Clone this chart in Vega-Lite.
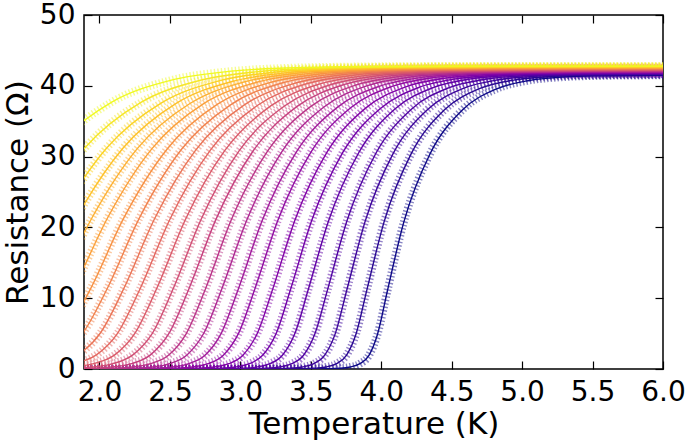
{
"$schema":"https://vega.github.io/schema/vega-lite/v6.json",
"width":579,"height":354,
"autosize":{"type":"none"},
"padding":{"left":84,"top":15,"right":22,"bottom":75},
"datasets":{"d":[
{"c":0,"t":0,"r":0},{"c":0,"t":3.560,"r":0.01},{"c":0,"t":3.708,"r":0.10},{"c":0,"t":3.780,"r":0.28},{"c":0,"t":3.849,"r":0.75},{"c":0,"t":3.914,"r":1.97},{"c":0,"t":3.974,"r":4.95},{"c":0,"t":4.045,"r":11.16},{"c":0,"t":4.16,"r":20.75},{"c":0,"t":4.345,"r":30.34},{"c":0,"t":4.574,"r":36.55},{"c":0,"t":4.814,"r":39.53},{"c":0,"t":5.049,"r":40.75},{"c":0,"t":5.280,"r":41.22},{"c":0,"t":5.508,"r":41.40},{"c":0,"t":5.960,"r":41.49},{"c":0,"t":6.0,"r":41.5},
{"c":1,"t":0,"r":0},{"c":1,"t":3.368,"r":0.01},{"c":1,"t":3.529,"r":0.10},{"c":1,"t":3.6075,"r":0.28},{"c":1,"t":3.683,"r":0.75},{"c":1,"t":3.754,"r":1.97},{"c":1,"t":3.821,"r":4.95},{"c":1,"t":3.898,"r":11.18},{"c":1,"t":4.02,"r":20.78},{"c":1,"t":4.212,"r":30.38},{"c":1,"t":4.449,"r":36.61},{"c":1,"t":4.696,"r":39.59},{"c":1,"t":4.940,"r":40.81},{"c":1,"t":5.178,"r":41.28},{"c":1,"t":5.414,"r":41.46},{"c":1,"t":5.881,"r":41.55},{"c":1,"t":6.0,"r":41.56},
{"c":2,"t":0,"r":0},{"c":2,"t":3.181,"r":0.01},{"c":2,"t":3.355,"r":0.10},{"c":2,"t":3.440,"r":0.28},{"c":2,"t":3.522,"r":0.75},{"c":2,"t":3.599,"r":1.97},{"c":2,"t":3.673,"r":4.96},{"c":2,"t":3.756,"r":11.19},{"c":2,"t":3.885,"r":20.81},{"c":2,"t":4.084,"r":30.42},{"c":2,"t":4.329,"r":36.65},{"c":2,"t":4.584,"r":39.64},{"c":2,"t":4.835,"r":40.86},{"c":2,"t":5.081,"r":41.33},{"c":2,"t":5.324,"r":41.51},{"c":2,"t":5.807,"r":41.60},{"c":2,"t":6.0,"r":41.61},
{"c":3,"t":0,"r":0},{"c":3,"t":2.999,"r":0.01},{"c":3,"t":3.186,"r":0.10},{"c":3,"t":3.2775,"r":0.28},{"c":3,"t":3.366,"r":0.75},{"c":3,"t":3.450,"r":1.98},{"c":3,"t":3.529,"r":4.97},{"c":3,"t":3.619,"r":11.21},{"c":3,"t":3.755,"r":20.84},{"c":3,"t":3.962,"r":30.47},{"c":3,"t":4.214,"r":36.70},{"c":3,"t":4.477,"r":39.70},{"c":3,"t":4.735,"r":40.92},{"c":3,"t":4.989,"r":41.39},{"c":3,"t":5.240,"r":41.57},{"c":3,"t":5.737,"r":41.66},{"c":3,"t":6.0,"r":41.67},
{"c":4,"t":0,"r":0},{"c":4,"t":2.817,"r":0.01},{"c":4,"t":3.017,"r":0.10},{"c":4,"t":3.115,"r":0.28},{"c":4,"t":3.210,"r":0.75},{"c":4,"t":3.300,"r":1.98},{"c":4,"t":3.386,"r":4.97},{"c":4,"t":3.482,"r":11.22},{"c":4,"t":3.625,"r":20.87},{"c":4,"t":3.839,"r":30.51},{"c":4,"t":4.099,"r":36.76},{"c":4,"t":4.369,"r":39.75},{"c":4,"t":4.635,"r":40.98},{"c":4,"t":4.897,"r":41.45},{"c":4,"t":5.155,"r":41.63},{"c":4,"t":5.668,"r":41.72},{"c":4,"t":6.0,"r":41.73},
{"c":5,"t":0,"r":0},{"c":5,"t":2.645,"r":0.01},{"c":5,"t":2.858,"r":0.10},{"c":5,"t":2.9625,"r":0.28},{"c":5,"t":3.064,"r":0.75},{"c":5,"t":3.160,"r":1.98},{"c":5,"t":3.253,"r":4.98},{"c":5,"t":3.356,"r":11.23},{"c":5,"t":3.505,"r":20.89},{"c":5,"t":3.726,"r":30.55},{"c":5,"t":3.994,"r":36.80},{"c":5,"t":4.272,"r":39.80},{"c":5,"t":4.546,"r":41.03},{"c":5,"t":4.815,"r":41.50},{"c":5,"t":5.081,"r":41.68},{"c":5,"t":5.609,"r":41.77},{"c":5,"t":6.0,"r":41.78},
{"c":6,"t":0,"r":0},{"c":6,"t":2.473,"r":0.01},{"c":6,"t":2.699,"r":0.10},{"c":6,"t":2.810,"r":0.28},{"c":6,"t":2.918,"r":0.75},{"c":6,"t":3.020,"r":1.98},{"c":6,"t":3.119,"r":4.99},{"c":6,"t":3.229,"r":11.25},{"c":6,"t":3.385,"r":20.92},{"c":6,"t":3.614,"r":30.59},{"c":6,"t":3.889,"r":36.85},{"c":6,"t":4.174,"r":39.86},{"c":6,"t":4.456,"r":41.09},{"c":6,"t":4.733,"r":41.56},{"c":6,"t":5.007,"r":41.74},{"c":6,"t":5.550,"r":41.83},{"c":6,"t":6.0,"r":41.84},
{"c":7,"t":0,"r":0},{"c":7,"t":2.301,"r":0.01},{"c":7,"t":2.540,"r":0.10},{"c":7,"t":2.6575,"r":0.28},{"c":7,"t":2.771,"r":0.75},{"c":7,"t":2.881,"r":1.99},{"c":7,"t":2.986,"r":4.99},{"c":7,"t":3.102,"r":11.27},{"c":7,"t":3.265,"r":20.95},{"c":7,"t":3.501,"r":30.63},{"c":7,"t":3.783,"r":36.91},{"c":7,"t":4.077,"r":39.91},{"c":7,"t":4.366,"r":41.15},{"c":7,"t":4.651,"r":41.62},{"c":7,"t":4.932,"r":41.80},{"c":7,"t":5.491,"r":41.89},{"c":7,"t":6.0,"r":41.90},
{"c":8,"t":0,"r":0},{"c":8,"t":2.139,"r":0.01},{"c":8,"t":2.391,"r":0.10},{"c":8,"t":2.515,"r":0.28},{"c":8,"t":2.635,"r":0.76},{"c":8,"t":2.751,"r":1.99},{"c":8,"t":2.863,"r":5.00},{"c":8,"t":2.985,"r":11.28},{"c":8,"t":3.155,"r":20.98},{"c":8,"t":3.398,"r":30.67},{"c":8,"t":3.688,"r":36.95},{"c":8,"t":3.990,"r":39.96},{"c":8,"t":4.287,"r":41.19},{"c":8,"t":4.579,"r":41.67},{"c":8,"t":4.868,"r":41.85},{"c":8,"t":5.441,"r":41.94},{"c":8,"t":6.0,"r":41.95},
{"c":9,"t":0,"r":0},{"c":9,"t":1.977,"r":0.01},{"c":9,"t":2.242,"r":0.10},{"c":9,"t":2.3725,"r":0.28},{"c":9,"t":2.499,"r":0.76},{"c":9,"t":2.621,"r":1.99},{"c":9,"t":2.739,"r":5.01},{"c":9,"t":2.868,"r":11.30},{"c":9,"t":3.045,"r":21.01},{"c":9,"t":3.295,"r":30.71},{"c":9,"t":3.593,"r":37.00},{"c":9,"t":3.902,"r":40.02},{"c":9,"t":4.207,"r":41.25},{"c":9,"t":4.507,"r":41.73},{"c":9,"t":4.803,"r":41.91},{"c":9,"t":5.392,"r":42.00},{"c":9,"t":6.0,"r":42.01},
{"c":10,"t":0,"r":0},{"c":10,"t":1.815,"r":0.01},{"c":10,"t":2.093,"r":0.11},{"c":10,"t":2.230,"r":0.28},{"c":10,"t":2.363,"r":0.76},{"c":10,"t":2.492,"r":1.99},{"c":10,"t":2.616,"r":5.01},{"c":10,"t":2.752,"r":11.31},{"c":10,"t":2.935,"r":21.04},{"c":10,"t":3.193,"r":30.76},{"c":10,"t":3.498,"r":37.06},{"c":10,"t":3.815,"r":40.08},{"c":10,"t":4.127,"r":41.31},{"c":10,"t":4.435,"r":41.79},{"c":10,"t":4.739,"r":41.96},{"c":10,"t":5.343,"r":42.06},{"c":10,"t":6.0,"r":42.07},
{"c":11,"t":0,"r":0},{"c":11,"t":1.653,"r":0.01},{"c":11,"t":1.944,"r":0.11},{"c":11,"t":2.0875,"r":0.28},{"c":11,"t":2.227,"r":0.76},{"c":11,"t":2.362,"r":2.00},{"c":11,"t":2.493,"r":5.02},{"c":11,"t":2.635,"r":11.33},{"c":11,"t":2.825,"r":21.06},{"c":11,"t":3.090,"r":30.79},{"c":11,"t":3.403,"r":37.10},{"c":11,"t":3.727,"r":40.12},{"c":11,"t":4.048,"r":41.36},{"c":11,"t":4.363,"r":41.84},{"c":11,"t":4.675,"r":42.01},{"c":11,"t":5.294,"r":42.11},{"c":11,"t":6.0,"r":42.12},
{"c":12,"t":0,"r":0},{"c":12,"t":1.496,"r":0.01},{"c":12,"t":1.800,"r":0.11},{"c":12,"t":1.950,"r":0.28},{"c":12,"t":2.096,"r":0.76},{"c":12,"t":2.237,"r":2.00},{"c":12,"t":2.375,"r":5.03},{"c":12,"t":2.523,"r":11.34},{"c":12,"t":2.72,"r":21.09},{"c":12,"t":2.992,"r":30.84},{"c":12,"t":3.313,"r":37.15},{"c":12,"t":3.645,"r":40.18},{"c":12,"t":3.973,"r":41.42},{"c":12,"t":4.296,"r":41.90},{"c":12,"t":4.615,"r":42.07},{"c":12,"t":5.250,"r":42.17},{"c":12,"t":6.0,"r":42.18},
{"c":13,"t":0,"r":0},{"c":13,"t":1.334,"r":0.01},{"c":13,"t":1.651,"r":0.11},{"c":13,"t":1.8075,"r":0.28},{"c":13,"t":1.960,"r":0.76},{"c":13,"t":2.108,"r":2.00},{"c":13,"t":2.251,"r":5.03},{"c":13,"t":2.406,"r":11.36},{"c":13,"t":2.61,"r":21.12},{"c":13,"t":2.890,"r":30.87},{"c":13,"t":3.218,"r":37.20},{"c":13,"t":3.558,"r":40.23},{"c":13,"t":3.893,"r":41.47},{"c":13,"t":4.224,"r":41.95},{"c":13,"t":4.551,"r":42.12},{"c":13,"t":5.200,"r":42.22},{"c":13,"t":6.0,"r":42.23},
{"c":14,"t":0,"r":0},{"c":14,"t":1.172,"r":0.01},{"c":14,"t":1.502,"r":0.11},{"c":14,"t":1.665,"r":0.28},{"c":14,"t":1.824,"r":0.76},{"c":14,"t":1.978,"r":2.00},{"c":14,"t":2.128,"r":5.04},{"c":14,"t":2.289,"r":11.37},{"c":14,"t":2.50,"r":21.15},{"c":14,"t":2.787,"r":30.92},{"c":14,"t":3.123,"r":37.25},{"c":14,"t":3.470,"r":40.29},{"c":14,"t":3.813,"r":41.53},{"c":14,"t":4.152,"r":42.01},{"c":14,"t":4.486,"r":42.18},{"c":14,"t":5.151,"r":42.28},{"c":14,"t":6.0,"r":42.29},
{"c":15,"t":0,"r":0},{"c":15,"t":1.010,"r":0.01},{"c":15,"t":1.353,"r":0.11},{"c":15,"t":1.5225,"r":0.28},{"c":15,"t":1.688,"r":0.76},{"c":15,"t":1.848,"r":2.01},{"c":15,"t":2.005,"r":5.05},{"c":15,"t":2.173,"r":11.39},{"c":15,"t":2.39,"r":21.18},{"c":15,"t":2.684,"r":30.96},{"c":15,"t":3.028,"r":37.30},{"c":15,"t":3.383,"r":40.34},{"c":15,"t":3.734,"r":41.59},{"c":15,"t":4.080,"r":42.07},{"c":15,"t":4.422,"r":42.24},{"c":15,"t":5.102,"r":42.34},{"c":15,"t":6.0,"r":42.35},
{"c":16,"t":0,"r":0},{"c":16,"t":0.848,"r":0.01},{"c":16,"t":1.204,"r":0.11},{"c":16,"t":1.380,"r":0.28},{"c":16,"t":1.552,"r":0.76},{"c":16,"t":1.718,"r":2.01},{"c":16,"t":1.881,"r":5.05},{"c":16,"t":2.056,"r":11.40},{"c":16,"t":2.28,"r":21.20},{"c":16,"t":2.581,"r":31.00},{"c":16,"t":2.933,"r":37.35},{"c":16,"t":3.295,"r":40.39},{"c":16,"t":3.654,"r":41.64},{"c":16,"t":4.008,"r":42.12},{"c":16,"t":4.358,"r":42.29},{"c":16,"t":5.053,"r":42.39},{"c":16,"t":6.0,"r":42.40},
{"c":17,"t":0,"r":0},{"c":17,"t":0.686,"r":0.01},{"c":17,"t":1.055,"r":0.11},{"c":17,"t":1.2375,"r":0.28},{"c":17,"t":1.415,"r":0.76},{"c":17,"t":1.589,"r":2.01},{"c":17,"t":1.758,"r":5.06},{"c":17,"t":1.939,"r":11.42},{"c":17,"t":2.17,"r":21.23},{"c":17,"t":2.479,"r":31.04},{"c":17,"t":2.838,"r":37.40},{"c":17,"t":3.208,"r":40.45},{"c":17,"t":3.574,"r":41.70},{"c":17,"t":3.936,"r":42.18},{"c":17,"t":4.293,"r":42.35},{"c":17,"t":5.004,"r":42.45},{"c":17,"t":6.0,"r":42.46},
{"c":18,"t":0,"r":0},{"c":18,"t":0.519,"r":0.01},{"c":18,"t":0.901,"r":0.11},{"c":18,"t":1.090,"r":0.28},{"c":18,"t":1.274,"r":0.77},{"c":18,"t":1.454,"r":2.02},{"c":18,"t":1.630,"r":5.07},{"c":18,"t":1.817,"r":11.43},{"c":18,"t":2.055,"r":21.26},{"c":18,"t":2.371,"r":31.09},{"c":18,"t":2.737,"r":37.45},{"c":18,"t":3.116,"r":40.50},{"c":18,"t":3.490,"r":41.75},{"c":18,"t":3.859,"r":42.23},{"c":18,"t":4.224,"r":42.41},{"c":18,"t":4.949,"r":42.51},{"c":18,"t":6.0,"r":42.52},
{"c":19,"t":0.357,"r":0.01},{"c":19,"t":0.752,"r":0.11},{"c":19,"t":0.9475,"r":0.29},{"c":19,"t":1.138,"r":0.77},{"c":19,"t":1.324,"r":2.02},{"c":19,"t":1.507,"r":5.07},{"c":19,"t":1.700,"r":11.45},{"c":19,"t":1.945,"r":21.29},{"c":19,"t":2.268,"r":31.12},{"c":19,"t":2.642,"r":37.50},{"c":19,"t":3.028,"r":40.55},{"c":19,"t":3.410,"r":41.80},{"c":19,"t":3.787,"r":42.28},{"c":19,"t":4.159,"r":42.46},{"c":19,"t":4.900,"r":42.56},{"c":19,"t":6.0,"r":42.57},
{"c":20,"t":1.002,"r":0.77},{"c":20,"t":1.195,"r":2.02},{"c":20,"t":1.383,"r":5.08},{"c":20,"t":1.584,"r":11.46},{"c":20,"t":1.835,"r":21.32},{"c":20,"t":2.166,"r":31.17},{"c":20,"t":2.547,"r":37.55},{"c":20,"t":2.941,"r":40.61},{"c":20,"t":3.330,"r":41.86},{"c":20,"t":3.715,"r":42.34},{"c":20,"t":4.095,"r":42.52},{"c":20,"t":4.851,"r":42.62},{"c":20,"t":6.0,"r":42.63},
{"c":21,"t":1.053,"r":2.02},{"c":21,"t":1.248,"r":5.09},{"c":21,"t":1.455,"r":11.48},{"c":21,"t":1.713,"r":21.35},{"c":21,"t":2.051,"r":31.21},{"c":21,"t":2.440,"r":37.60},{"c":21,"t":2.841,"r":40.67},{"c":21,"t":3.239,"r":41.92},{"c":21,"t":3.631,"r":42.40},{"c":21,"t":4.019,"r":42.58},{"c":21,"t":4.790,"r":42.68},{"c":21,"t":6.0,"r":42.69},
{"c":22,"t":0.872,"r":2.03},{"c":22,"t":1.074,"r":5.09},{"c":22,"t":1.287,"r":11.49},{"c":22,"t":1.552,"r":21.37},{"c":22,"t":1.897,"r":31.25},{"c":22,"t":2.294,"r":37.65},{"c":22,"t":2.703,"r":40.71},{"c":22,"t":3.108,"r":41.97},{"c":22,"t":3.508,"r":42.45},{"c":22,"t":3.903,"r":42.63},{"c":22,"t":4.690,"r":42.73},{"c":22,"t":6.0,"r":42.74},
{"c":23,"t":0.631,"r":2.03},{"c":23,"t":0.838,"r":5.10},{"c":23,"t":1.058,"r":11.51},{"c":23,"t":1.33,"r":21.40},{"c":23,"t":1.683,"r":31.29},{"c":23,"t":2.087,"r":37.70},{"c":23,"t":2.504,"r":40.77},{"c":23,"t":2.916,"r":42.03},{"c":23,"t":3.324,"r":42.51},{"c":23,"t":3.727,"r":42.69},{"c":23,"t":4.528,"r":42.79},{"c":23,"t":6.0,"r":42.80}
]},
"data":{"name":"d"},
"layer":[
{"mark":{"type":"line","clip":true,"interpolate":"monotone","strokeWidth":8,"strokeDash":[1.4,2.1],"opacity":0.5},
 "encoding":{
  "x":{"field":"t","type":"quantitative","scale":{"domain":[1.89,6.0],"nice":false,"zero":false},
       "axis":{"orient":"bottom","values":[2,2.5,3,3.5,4,4.5,5,5.5,6],"format":".1f","title":"Temperature (K)","labelPadding":17,"titlePadding":3,"labelFlush":false}},
  "y":{"field":"r","type":"quantitative","scale":{"domain":[0,50],"nice":false,"zero":false},
       "axis":{"orient":"left","values":[0,10,20,30,40,50],"format":"d","title":"Resistance (Ω)","labelPadding":17,"titlePadding":5,"labelFlush":false}},
  "color":{"field":"c","type":"quantitative","scale":{"scheme":"plasma","domain":[0,23]},"legend":null},
  "detail":{"field":"c","type":"nominal"}
 }},
{"mark":{"type":"line","clip":true,"interpolate":"monotone","strokeWidth":1.4},
 "encoding":{
  "x":{"field":"t","type":"quantitative","scale":{"domain":[1.89,6.0],"nice":false,"zero":false},"axis":null},
  "y":{"field":"r","type":"quantitative","scale":{"domain":[0,50],"nice":false,"zero":false},"axis":null},
  "color":{"field":"c","type":"quantitative","scale":{"scheme":"plasma","domain":[0,23]},"legend":null},
  "detail":{"field":"c","type":"nominal"}
 }},
{"mark":{"type":"line","clip":true,"opacity":0},
 "encoding":{
  "x":{"field":"t","type":"quantitative","scale":{"domain":[1.89,6.0],"nice":false,"zero":false},"axis":{"orient":"top","values":[2,2.5,3,3.5,4,4.5,5,5.5,6],"labels":false,"title":null}},
  "y":{"field":"r","type":"quantitative","scale":{"domain":[0,50],"nice":false,"zero":false},"axis":{"orient":"right","values":[0,10,20,30,40,50],"labels":false,"title":null}},
  "detail":{"field":"c","type":"nominal"}
 }}
],
"resolve":{"axis":{"x":"independent","y":"independent"}},
"config":{
 "view":{"stroke":"black","strokeWidth":1.5},
 "axis":{"domain":false,"grid":false,"ticks":true,"tickColor":"black","tickSize":-8,"tickWidth":1.2,"labelFlush":false,
   "labelFont":"DejaVu Sans","labelFontSize":28,"labelColor":"black",
   "titleFont":"DejaVu Sans","titleFontSize":31,"titleFontWeight":"normal","titleColor":"black"}
}
}
